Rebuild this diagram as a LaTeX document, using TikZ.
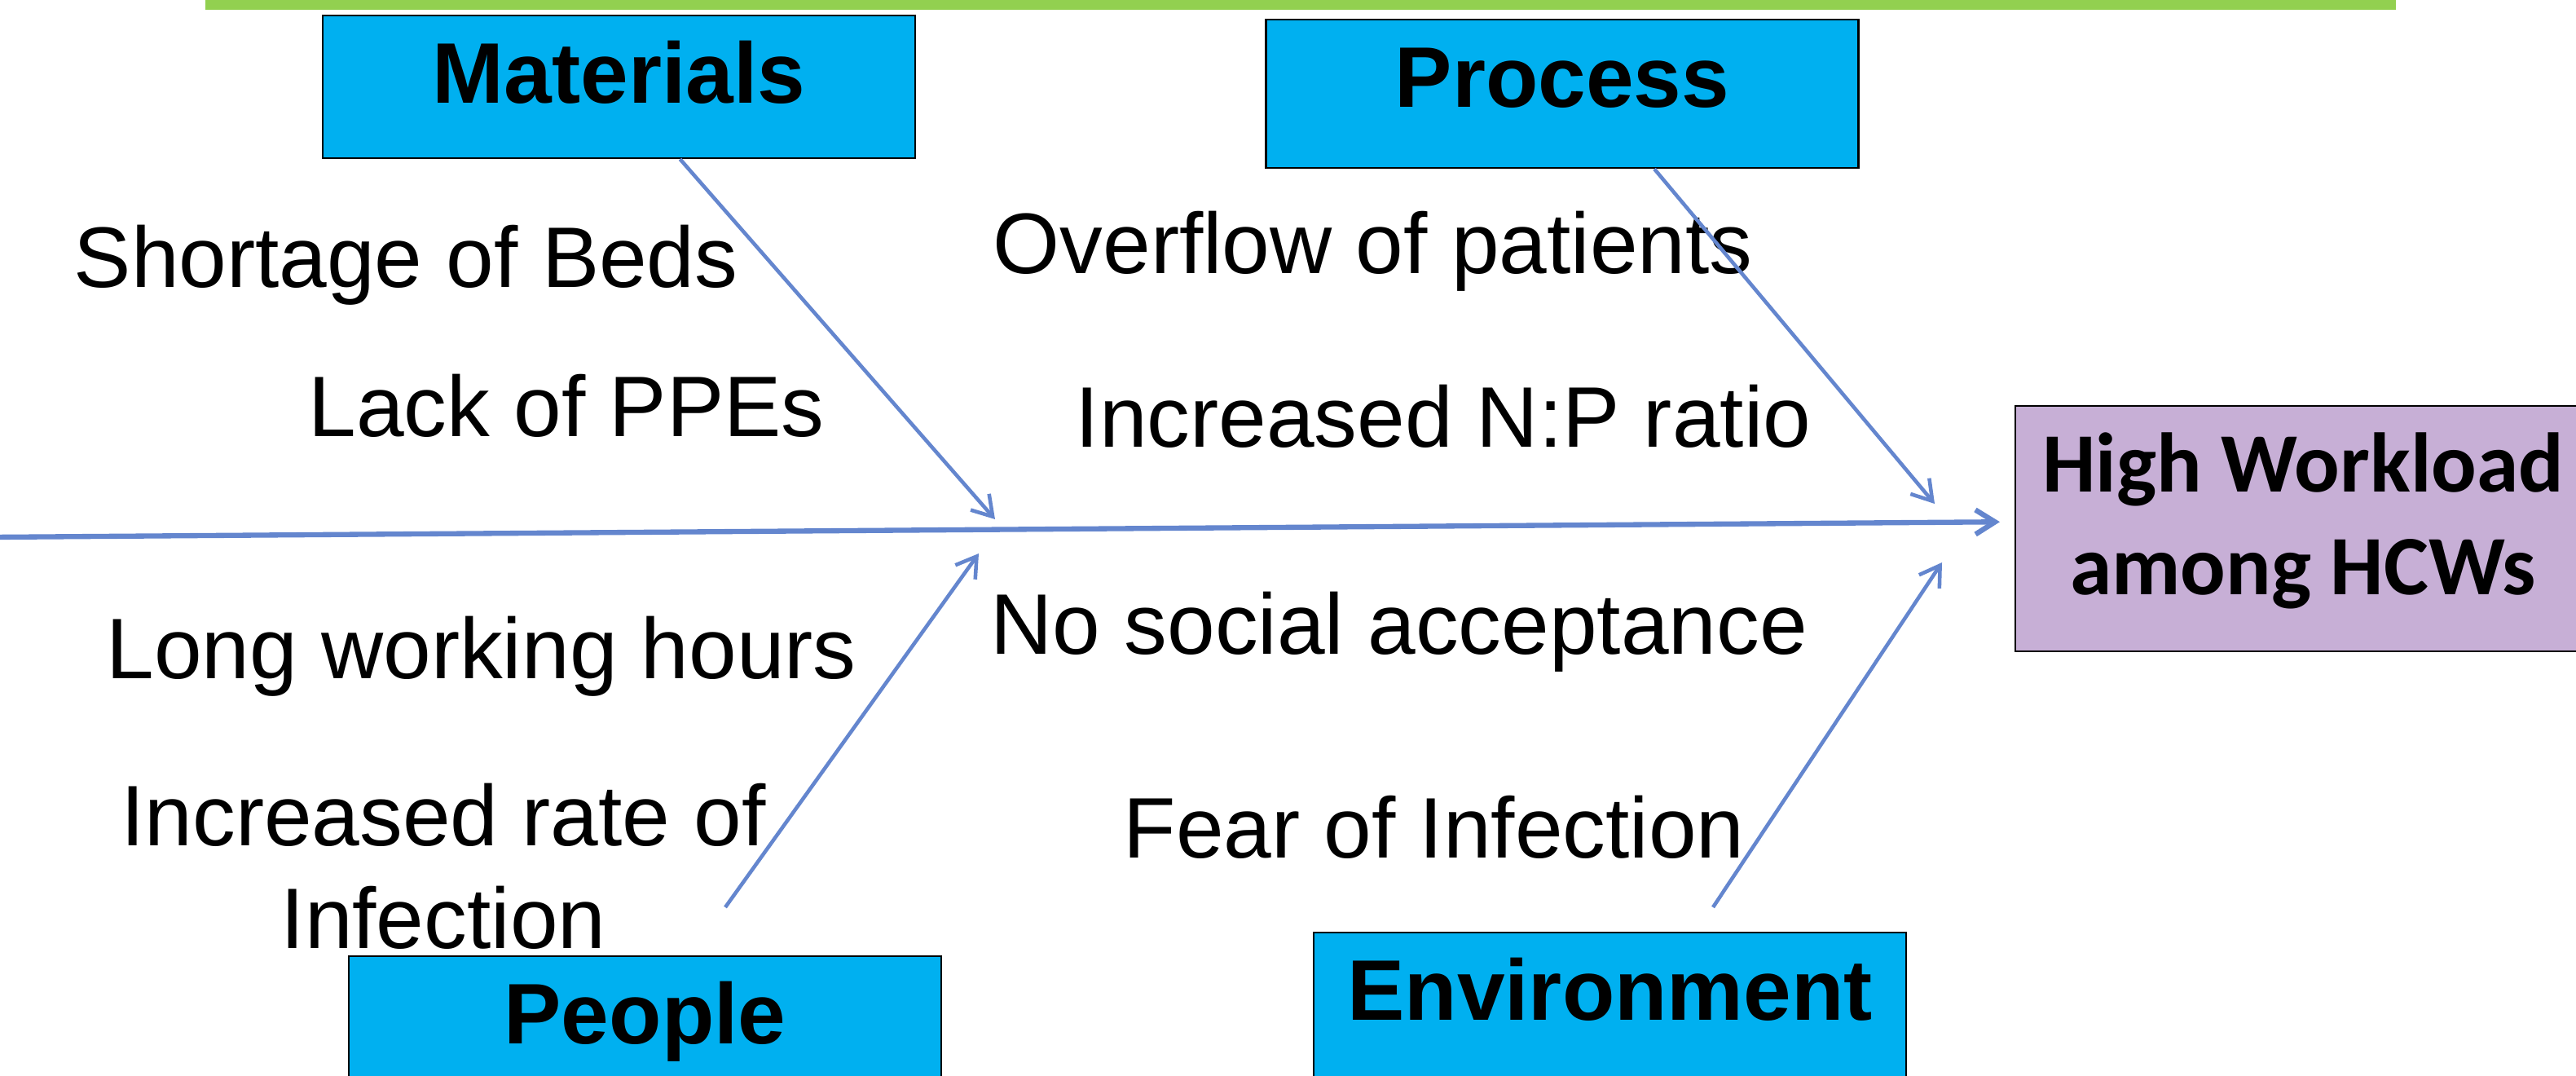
\documentclass[tikz,border=0pt]{standalone}
\usepackage{fontspec}
\setmainfont{Liberation Sans}
\newfontfamily\calibri{Carlito}
\usetikzlibrary{arrows.meta}

\definecolor{boxblue}{HTML}{00B0F0}
\definecolor{bargreen}{HTML}{92D050}
\definecolor{lilac}{RGB}{199,175,214}
\definecolor{boneblue}{RGB}{100,134,206}

\begin{document}
\begin{tikzpicture}[>={Straight Barb[length=0.24cm,width=0.3cm]},
  cause node/.style={rectangle,draw=black,line width=0.7pt,fill=boxblue,
  font=\fontsize{30}{36}\selectfont\bfseries,minimum width=7.27cm,
  inner ysep=0pt,text height=1.07cm,text depth=0.75cm,anchor=base},
  effect node/.style={rectangle,draw=black,line width=0.7pt,fill=lilac,
  font=\calibri\fontsize{29.5}{35.9}\selectfont\bfseries,align=center,
  minimum width=7.06cm,inner ysep=0pt,text height=2.31cm,text depth=0.70cm,
  anchor=north west},
  item node/.style={inner sep=0pt,anchor=base west,
  font=\fontsize{30}{35.6}\selectfont},
  bone/.style={->,draw=boneblue,line width=1.3pt}]
  \useasboundingbox (0,0) rectangle (31.61,-13.19);

  % barra superior
  \fill[bargreen] (2.52,0.2) rectangle (29.40,-0.12);

  % categorias
  \node[cause node,text depth=0.68cm] (materials) at (7.595,-1.26) {Materials};
  \node[cause node] (process) at (19.17,-1.31) {Process};
  \node[cause node] (people) at (7.915,-12.80) {People};
  \node[cause node] (environment) at (19.755,-12.51) {Environment};

  % efecto
  \node[effect node] (effect) at (24.72,-4.97) {High Workload\\among HCWs};

  % causas
  \node[item node] (beds) at (0.90,-3.52) {Shortage of Beds};
  \node[item node] (ppe) at (3.78,-5.35) {Lack of PPEs};
  \node[item node] (overflow) at (12.18,-3.35) {Overflow of patients};
  \node[item node] (ratio) at (13.19,-5.48) {Increased N:P ratio};
  \node[item node] (hours) at (1.30,-8.32) {Long working hours};
  \node[item node,align=center,anchor=base] (rate) at (5.44,-11.63)
    {Increased rate of\\Infection};
  \node[item node] (social) at (12.15,-8.02) {No social acceptance};
  \node[item node] (fear) at (13.78,-10.52) {Fear of Infection};

  % espina y flechas
  \coordinate (tail) at (-0.1,-6.59);
  \coordinate (mTip) at (12.21,-6.37);
  \coordinate (pTip) at (23.74,-6.18);
  \coordinate (hStart) at (8.90,-11.13);
  \coordinate (hTip) at (12.01,-6.79);
  \coordinate (eStart) at (21.02,-11.13);
  \coordinate (eTip) at (23.83,-6.90);

  \draw[bone,line width=1.8pt] (tail) -- ([yshift=0.085cm,xshift=-0.18cm]effect.west);
  \draw[bone] ([xshift=0.75cm]materials.south) -- (mTip);
  \draw[bone] ([xshift=1.13cm]process.south) -- (pTip);
  \draw[bone] (hStart) -- (hTip);
  \draw[bone] (eStart) -- (eTip);
\end{tikzpicture}
\end{document}
